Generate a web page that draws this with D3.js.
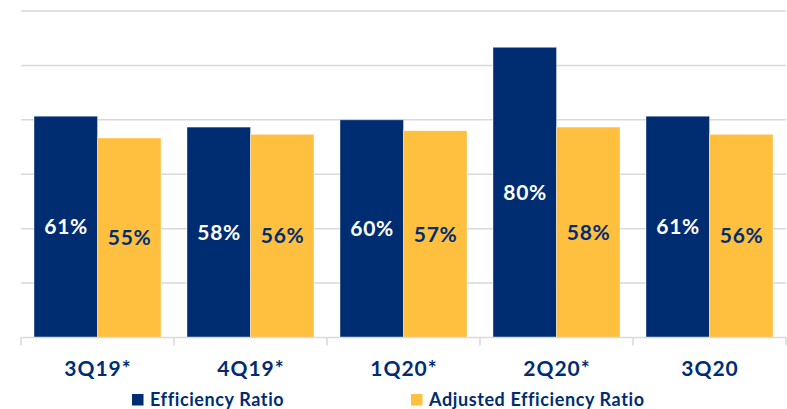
<!DOCTYPE html>
<html>
<head>
<meta charset="utf-8">
<script src="https://cdn.jsdelivr.net/npm/d3@7"></script>
<style>
  html, body { margin: 0; padding: 0; background: #ffffff; }
  svg { display: block; font-family: Lato, "Open Sans", sans-serif; }
</style>
</head>
<body>
<svg id="chart" width="787" height="409"></svg>
<script>
// Quarterly efficiency ratios (%)
const quarters = ["3Q19*", "4Q19*", "1Q20*", "2Q20*", "3Q20"];
const efficiencyRatio = [61, 58, 60, 80, 61];
const adjustedEfficiencyRatio = [55, 56, 57, 58, 56];
const seriesNames = ["Efficiency Ratio", "Adjusted Efficiency Ratio"];
const gridTicks = [0, 15, 30, 45, 60, 75, 90];

const navy = "#002d72";
const gold = "#ffbf3f";
const colors = [navy, gold];
const labelColors = ["#ffffff", navy];

const svg = d3.select("#chart");
const plotLeft = 21, plotRight = 786, plotTop = 11, plotBottom = 337.5;

const x = d3.scaleBand().domain(quarters).range([plotLeft, plotRight]).padding(0);
const bw = x.bandwidth();
const xs = d3.scaleBand().domain(seriesNames).range([bw * 0.085, bw * 0.915]).padding(0);
const y = d3.scaleLinear().domain([0, 90]).range([plotBottom, plotTop]);

// horizontal gridlines
svg.append("g")
  .selectAll("line")
  .data(gridTicks.filter(t => t > 0))
  .join("line")
  .attr("x1", plotLeft).attr("x2", plotRight)
  .attr("y1", d => y(d)).attr("y2", d => y(d))
  .attr("stroke", "#d9d9d9").attr("stroke-width", 1.5);

const rows = quarters.map((q, i) => ({
  q,
  vals: [efficiencyRatio[i], adjustedEfficiencyRatio[i]]
}));

const groups = svg.append("g")
  .selectAll("g")
  .data(rows)
  .join("g")
  .attr("transform", d => `translate(${x(d.q)},0)`);

groups.selectAll("rect")
  .data(d => d.vals.map((v, k) => ({ v, k })))
  .join("rect")
  .attr("x", d => xs(seriesNames[d.k]))
  .attr("width", xs.bandwidth())
  .attr("y", d => y(d.v))
  .attr("height", d => y(0) - y(d.v))
  .attr("fill", d => colors[d.k])
  .attr("stroke", "#ffffff").attr("stroke-opacity", 0.5).attr("stroke-width", 0.75);

// value labels centred in each bar
groups.selectAll("text")
  .data(d => d.vals.map((v, k) => ({ v, k })))
  .join("text")
  .attr("x", d => xs(seriesNames[d.k]) + xs.bandwidth() / 2 + 0.3)
  .attr("y", d => (y(d.v) + y(0)) / 2)
  .attr("dy", "0.36em")
  .attr("text-anchor", "middle")
  .attr("font-size", 21)
  .attr("font-weight", 700)
  .attr("letter-spacing", 0.6)
  .attr("fill", d => labelColors[d.k])
  .text(d => d.v + "%");

// category axis
const xAxis = svg.append("g")
  .attr("transform", `translate(0,${plotBottom})`)
  .call(d3.axisBottom(x).tickSize(0).tickPadding(0));
xAxis.select(".domain").remove();
xAxis.selectAll(".tick text")
  .attr("x", 0.5)
  .attr("y", 31)
  .attr("dy", "0.36em")
  .attr("font-family", "Lato, sans-serif")
  .attr("font-size", 21)
  .attr("font-weight", 700)
  .attr("letter-spacing", 1)
  .attr("fill", navy);

svg.append("line")
  .attr("x1", plotLeft).attr("x2", plotRight)
  .attr("y1", plotBottom).attr("y2", plotBottom)
  .attr("stroke", "#d9d9d9").attr("stroke-width", 1.5);

// separators between categories
const edges = quarters.map(q => x(q)).concat([plotRight]);
svg.append("g")
  .selectAll("line")
  .data(edges)
  .join("line")
  .attr("x1", d => d).attr("x2", d => d)
  .attr("y1", plotBottom).attr("y2", plotBottom + 8)
  .attr("stroke", "#d9d9d9").attr("stroke-width", 1.5);

// legend
const legendX = [132, 411];
const legend = svg.append("g")
  .selectAll("g")
  .data(seriesNames)
  .join("g")
  .attr("transform", (d, i) => `translate(${legendX[i]},394)`);
legend.append("rect")
  .attr("width", 11.5).attr("height", 11.5)
  .attr("fill", (d, i) => colors[i]);
legend.append("text")
  .attr("x", 18).attr("y", 6)
  .attr("dy", "0.36em")
  .attr("font-size", 18)
  .attr("font-weight", 700)
  .attr("letter-spacing", 0.6)
  .attr("fill", navy)
  .text(d => d);
</script>
</body>
</html>
